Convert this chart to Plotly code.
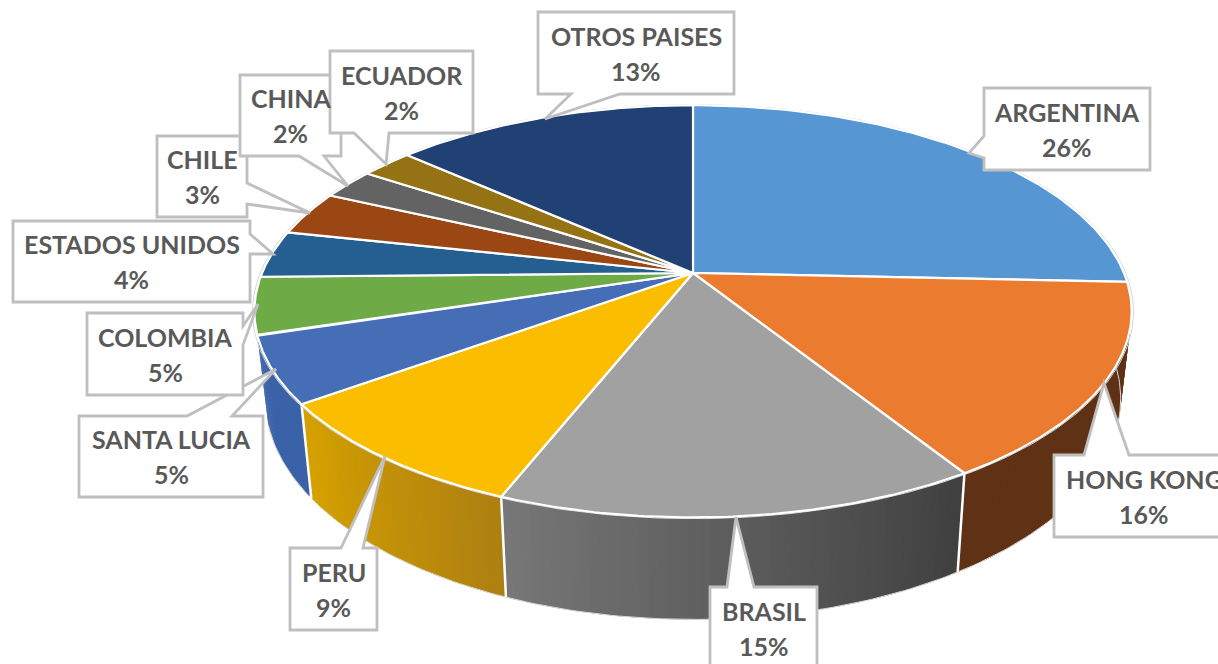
import numpy as np
import plotly.graph_objects as go

categories = ["ARGENTINA", "HONG KONG", "BRASIL", "PERU", "SANTA LUCIA", "COLOMBIA",
              "ESTADOS UNIDOS", "CHILE", "CHINA", "ECUADOR", "OTROS PAISES"]
shares = [25.7, 15.4, 14.9, 9.0, 5.2, 4.5, 3.7, 3.5, 2.4, 2.3, 13.4]
percent_labels = ["26%", "16%", "15%", "9%", "5%", "5%", "4%", "3%", "2%", "2%", "13%"]

top_colors = ["#5696D3", "#EB7B2F", "#A1A1A1", "#FBBD00", "#456EB7", "#6EAB47",
              "#255E91", "#9A4713", "#636363", "#957315", "#214073"]
side_colors = {1: ("#5F3215", "#5F3215"), 2: ("#404040", "#787878"),
               3: ("#AE8012", "#D8A300"), 4: ("#3A62A8", "#3A62A8")}

# projection of the pie onto the canvas
CX, CY, A, B, K = 693.0, 273.0, 431.0, 199.0, 0.186
S_X, DEPTH, D_SLOPE, Y_REF = 0.975, 102.0, 0.07, 518.0


def top_pt(t, r=1.0):
    x, y = r * np.sin(t), r * np.cos(t)
    w = 1 + K * y
    return CX + A * x / w, CY - B * y / w


def low_pt(t):
    u, v = top_pt(t)
    return CX + S_X * (u - CX), v + DEPTH + D_SLOPE * (v - Y_REF)


total = sum(shares)
edges = 2 * np.pi * np.cumsum([0] + shares) / total


def hexrgb(h):
    return np.array([int(h[i:i + 2], 16) for i in (1, 3, 5)], float)


fig = go.Figure()
NOHOVER = dict(hoverinfo="skip", showlegend=False)

# side walls (start angle is the right end of a slice, colours go along the angle)
for i, (c0, c1) in side_colors.items():
    a0, a1 = edges[i], edges[i + 1]
    n = 48
    ts = np.linspace(a0, a1, n + 1)
    for j in range(n):
        f = (j + 0.5) / n
        rgb = hexrgb(c0) * (1 - f) + hexrgb(c1) * f
        col = "rgb(%d,%d,%d)" % tuple(rgb)
        sub = np.linspace(ts[j], ts[min(j + 2, n)], 4)
        tx, ty = top_pt(sub)
        bx, by = low_pt(sub[::-1])
        fig.add_trace(go.Scatter(x=np.r_[tx, bx, tx[0]], y=np.r_[ty, by, ty[0]], mode="none",
                                 fill="toself", fillcolor=col, **NOHOVER))

# faint outline of the lower rim and white seams between walls
tt = np.linspace(edges[1], edges[5], 200)
lx, ly = low_pt(tt)
fig.add_trace(go.Scatter(x=lx, y=ly, mode="lines", line=dict(color="#dcdcdc", width=1), **NOHOVER))
for e in edges[2:5]:
    tx, ty = top_pt(e)
    bx, by = low_pt(e)
    fig.add_trace(go.Scatter(x=[tx, bx], y=[ty, by], mode="lines", line=dict(color="white", width=2.5), **NOHOVER))

# faint outline of the top rim
tt = np.linspace(0, 2 * np.pi, 400)
ox, oy = top_pt(tt, 1.004)
fig.add_trace(go.Scatter(x=ox, y=oy, mode="lines", line=dict(color="#d4d4d4", width=1), **NOHOVER))

# top faces
for i in range(len(shares)):
    ts = np.linspace(edges[i], edges[i + 1], 90)
    rx, ry = top_pt(ts)
    fig.add_trace(go.Scatter(x=np.r_[CX, rx, CX], y=np.r_[CY, ry, CY], mode="lines", fill="toself",
                             fillcolor=top_colors[i], line=dict(color="white", width=2.2),
                             name=categories[i], hoverinfo="skip", showlegend=False))

# callouts: box (x0, y0, x1, y1), side the pointer leaves from, pointer polygon
callouts = {
    "SANTA LUCIA": ((79, 416, 263, 497), "top", [(187, 416), (276, 369), (232, 416)]),
    "COLOMBIA": ((87, 313, 243, 395), "right", [(243, 326), (258, 304), (243, 345)]),
    "ESTADOS UNIDOS": ((13, 221, 250, 302), "right", [(250, 234), (273, 254), (250, 254)]),
    "CHILE": ((157, 136, 247, 217), "right", [(247, 183), (310, 213), (247, 204)]),
    "CHINA": ((240, 75, 341, 156), "bottom", [(324, 156), (348, 186), (299, 156)]),
    "ECUADOR": ((330, 51, 473, 133), "bottom", [(389, 133), (386, 164), (354, 133)]),
    "OTROS PAISES": ((538, 12, 734, 94), "bottom", [(620, 94), (545, 119), (571, 94)]),
    "ARGENTINA": ((984, 88, 1150, 170), "left", [(984, 158), (969, 153), (984, 136)]),
    "HONG KONG": ((1054, 455, 1240, 537), "top", [(1084, 455), (1104, 383), (1129, 455)]),
    "BRASIL": ((710, 587, 817, 669), "top", [(727, 587), (736, 517), (754, 587)]),
    "PERU": ((290, 548, 377, 630), "top", [(341, 548), (385, 456), (363, 548)]),
}

shapes, annotations = [], []
for name, (box, side, ptr) in callouts.items():
    x0, y0, x1, y1 = box
    corners = {"top": [(x0, y0)], "right": [(x0, y0), (x1, y0)],
               "bottom": [(x0, y0), (x1, y0), (x1, y1)],
               "left": [(x0, y0), (x1, y0), (x1, y1), (x0, y1)]}[side]
    rest = {"top": [(x1, y0), (x1, y1), (x0, y1)], "right": [(x1, y1), (x0, y1)],
            "bottom": [(x0, y1)], "left": []}[side]
    pts = corners + ptr + rest
    path = "M" + " L".join(f"{a},{b}" for a, b in pts) + " Z"
    shapes.append(dict(type="path", path=path, xref="x", yref="y", fillcolor="white",
                       line=dict(color="#BFBFBF", width=2.8), layer="above"))
    cx, cy = (x0 + x1) / 2, (y0 + y1) / 2
    if name == "HONG KONG":
        cx = 1144
    idx = categories.index(name)
    for text, dy in ((name, -17.5), (percent_labels[idx], 17.5)):
        annotations.append(dict(x=cx, y=cy + dy, xref="x", yref="y", text="<b>%s</b>" % text, showarrow=False,
                                xanchor="center", yanchor="middle",
                                font=dict(family="Lato, Carlito, sans-serif", size=25, color="#595959")))

fig.update_layout(width=1218, height=664, margin=dict(l=0, r=0, t=0, b=0), paper_bgcolor="white",
                  plot_bgcolor="white", shapes=shapes, annotations=annotations, showlegend=False,
                  hovermode=False,
                  xaxis=dict(range=[0, 1218], visible=False, fixedrange=True),
                  yaxis=dict(range=[664, 0], visible=False, fixedrange=True))

fig.write_html("out.html", config=dict(displayModeBar=False),
               post_script="document.body.style.margin='0';document.body.style.overflow='hidden';")
